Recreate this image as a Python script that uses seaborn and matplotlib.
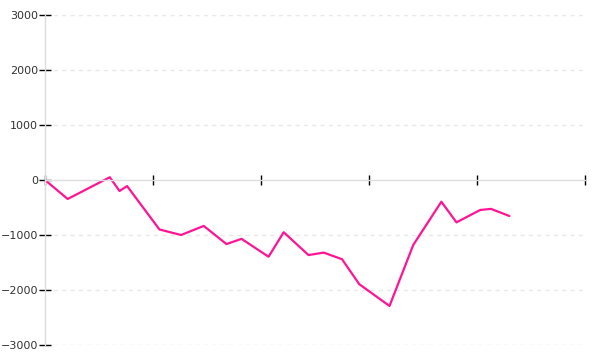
import matplotlib
matplotlib.use("Agg")
import matplotlib.pyplot as plt
import seaborn as sns
import pandas as pd

# x positions (time units) and values
x_vals = [0, 2.1, 6.0, 6.9, 7.6, 10.6, 12.6, 14.7, 16.8, 18.2, 20.7, 22.1,
          24.4, 25.8, 27.5, 29.1, 31.9, 34.1, 36.7, 38.1, 40.3, 41.3, 43.0]
y_vals = [0, -345, 50, -200, -110, -900, -1000, -835, -1165, -1070, -1395, -950,
          -1365, -1320, -1440, -1895, -2290, -1180, -395, -770, -545, -525, -655]
x_ticks = [0, 10, 20, 30, 40, 50]
y_ticks = [-3000, -2000, -1000, 0, 1000, 2000, 3000]

df = pd.DataFrame({"x": x_vals, "y": y_vals})

sns.set_style("white")
plt.rcParams['font.family'] = ['DejaVu Sans']

fig = plt.figure(figsize=(6, 3.6), dpi=100)
ax = fig.add_axes([45/600, 1-345/360, 540/600, 330/360])

for yv in y_ticks:
    if yv != 0:
        ax.axhline(yv, color="#e8e8e8", lw=1, ls=(0, (3, 3)), zorder=0,
                   xmax=0.996)

sns.lineplot(data=df, x="x", y="y", ax=ax, color="#ff1493", lw=1.6)

ax.set_xlim(0, 50)
ax.set_ylim(-3000, 3000)
ax.set_xticks(x_ticks)
ax.set_xticklabels([])
ax.set_yticks(y_ticks)
ax.set_yticklabels([str(v).replace("-", "\u2212") for v in y_ticks])
ax.set_xlabel("")
ax.set_ylabel("")

for s in ["top", "right"]:
    ax.spines[s].set_visible(False)
ax.spines["left"].set_color("#dddddd")
ax.spines["bottom"].set_color("#dddddd")
ax.spines["bottom"].set_position(("data", 0))
ax.spines["left"].set_linewidth(1)
ax.spines["bottom"].set_linewidth(1)

ax.tick_params(axis="x", bottom=True, direction="inout", length=7, width=1,
               color="black")
ax.tick_params(axis="y", left=True, direction="inout", length=8, width=1,
               color="black", labelsize=8, labelcolor="#333333", pad=1)

fig.savefig("out.png", dpi=100)
